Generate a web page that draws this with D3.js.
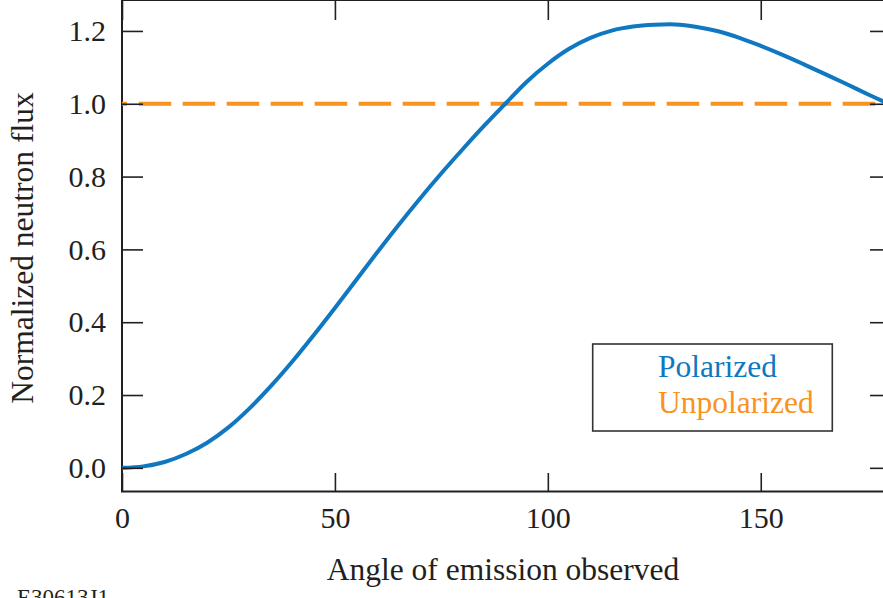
<!DOCTYPE html>
<html>
<head>
<meta charset="utf-8">
<script src="https://cdn.jsdelivr.net/npm/d3@7"></script>
<style>
  html, body { margin: 0; padding: 0; background: #fff; }
  svg { display: block; font-family: "Liberation Serif", "Times New Roman", serif; }
</style>
</head>
<body>
<svg id="chart" width="883" height="598"></svg>
<script>
// ---- data ----
const angles = [0,5,10,15,20,25,30,35,40,45,50,55,60,65,70,75,80,85,90,95,100,105,110,115,120,125,130,135,140,145,150,155,160,165,170,175,180];
const polarized = [0.000,0.004,0.016,0.038,0.069,0.111,0.164,0.225,0.292,0.364,0.439,0.516,0.593,0.668,0.740,0.809,0.875,0.939,1.000,1.060,1.110,1.151,1.181,1.201,1.212,1.217,1.218,1.211,1.199,1.181,1.159,1.135,1.109,1.082,1.055,1.027,1.000];
const unpolarized = angles.map(() => 1.0);
const xTicks = [0, 50, 100, 150];
const yTicks = [0, 0.2, 0.4, 0.6, 0.8, 1.0, 1.2];
const seriesNames = ["Polarized", "Unpolarized"];
const seriesColors = ["#0f78c1", "#f7931e"];
const xTitle = "Angle of emission observed";
const yTitle = "Normalized neutron flux";
const figId = "E30613J1";

// ---- layout ----
const svg = d3.select("#chart");
const mLeft = 122, mRight = 888.5, mTop = 0, mBottom = 491.5;
const x = d3.scaleLinear().domain([0, 180]).range([mLeft, mRight]);
const y = d3.scaleLinear().domain([-0.065, 1.285]).range([mBottom, mTop]);
const ink = "#231f20";

// frame
svg.append("rect")
  .attr("x", mLeft).attr("y", mTop)
  .attr("width", mRight - mLeft).attr("height", mBottom - mTop)
  .attr("fill", "none").attr("stroke", ink).attr("stroke-width", 2);

// lines
const line = d3.line().x((d, i) => x(angles[i])).y(d => y(d)).curve(d3.curveCatmullRom.alpha(0.5));

svg.append("path").datum(unpolarized)
  .attr("d", line)
  .attr("fill", "none")
  .attr("stroke", seriesColors[1])
  .attr("stroke-width", 4)
  .attr("stroke-dasharray", "32.5,11.5")
  .attr("stroke-dashoffset", 27.3);

svg.append("path").datum(polarized)
  .attr("d", line)
  .attr("fill", "none")
  .attr("stroke", seriesColors[0])
  .attr("stroke-width", 4)
  .attr("stroke-linejoin", "round");

// axes (ticks inside)
function styleAxis(g, fontSize) {
  g.select(".domain").remove();
  g.selectAll(".tick line").attr("stroke", ink).attr("stroke-width", 1.6);
  g.selectAll(".tick text").attr("fill", ink).attr("font-size", fontSize)
    .attr("font-family", '"Liberation Serif", "Times New Roman", serif');
}

svg.append("g").attr("transform", `translate(${mLeft},0)`)
  .call(d3.axisLeft(y).tickValues(yTicks).tickFormat(d3.format(".1f")).tickSize(-21).tickPadding(16))
  .call(g => styleAxis(g, 30));

svg.append("g").attr("transform", `translate(${mRight},0)`)
  .call(d3.axisRight(y).tickValues(yTicks).tickFormat("").tickSize(-18.5))
  .call(g => styleAxis(g, 30));

svg.append("g").attr("transform", `translate(0,${mBottom})`)
  .call(d3.axisBottom(x).tickValues(xTicks).tickFormat(d3.format("d")).tickSize(-18.5).tickPadding(15.2))
  .call(g => styleAxis(g, 30));

svg.append("g").attr("transform", `translate(0,${mTop})`)
  .call(d3.axisTop(x).tickValues(xTicks).tickFormat("").tickSize(-20))
  .call(g => styleAxis(g, 30));

// axis titles
svg.append("text")
  .attr("x", 503).attr("y", 580)
  .attr("text-anchor", "middle")
  .attr("font-size", 31.5).attr("fill", ink)
  .text(xTitle);

svg.append("text")
  .attr("transform", "translate(33,248) rotate(-90)")
  .attr("text-anchor", "middle")
  .attr("font-size", 31.5).attr("fill", ink)
  .text(yTitle);

// legend
const lg = svg.append("g");
lg.append("rect")
  .attr("x", 592.7).attr("y", 344).attr("width", 239.6).attr("height", 87)
  .attr("fill", "#fff").attr("stroke", "#333").attr("stroke-width", 1.6);
seriesNames.forEach((name, i) => {
  lg.append("text")
    .attr("x", 658).attr("y", 376.7 + i * 36.6)
    .attr("font-size", 31.5).attr("fill", seriesColors[i])
    .text(name);
});

// figure id (cut off at bottom, as in the reference)
svg.append("text")
  .attr("x", 17).attr("y", 605)
  .attr("font-size", 23).attr("fill", ink)
  .text(figId);
</script>
</body>
</html>
